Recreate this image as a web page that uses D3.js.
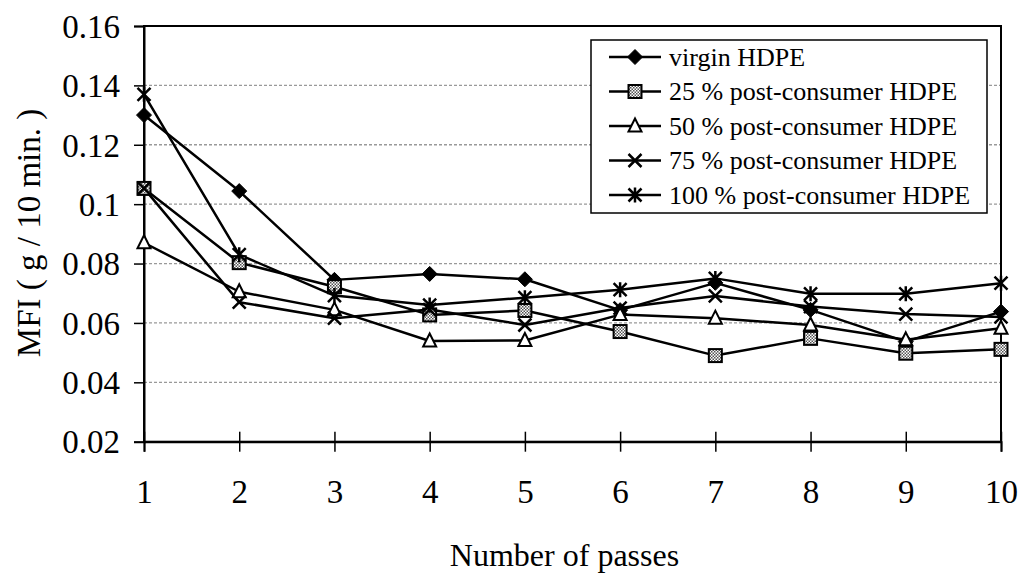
<!DOCTYPE html>
<html><head><meta charset="utf-8">
<script src="https://cdn.jsdelivr.net/npm/d3@7"></script>
<style>
body{margin:0;background:#fff}
svg{display:block}
text{font-family:"Liberation Serif","Times New Roman",serif;fill:#000}
</style>
</head><body>
<svg id="c" width="1020" height="576"></svg>
<script>
// ---- data ----
const passes = [1,2,3,4,5,6,7,8,9,10];
const virginHDPE = [0.1300,0.1044,0.0745,0.0765,0.0747,0.0643,0.0735,0.0644,0.0537,0.0638];
const pc25 = [0.1053,0.0803,0.0722,0.0627,0.0642,0.0571,0.0490,0.0548,0.0498,0.0511];
const pc50 = [0.0870,0.0705,0.0644,0.0539,0.0541,0.0628,0.0616,0.0593,0.0543,0.0582];
const pc75 = [0.1053,0.0670,0.0616,0.0645,0.0593,0.0650,0.0691,0.0655,0.0630,0.0620];
const pc100 = [0.1370,0.0830,0.0692,0.0660,0.0685,0.0712,0.0750,0.0698,0.0698,0.0734];
const seriesNames = ["virgin HDPE","25 % post-consumer HDPE","50 % post-consumer HDPE","75 % post-consumer HDPE","100 % post-consumer HDPE"];
const markerTypes = ["diamond","square","triangle","x","asterisk"];
const yTickValues = [0.02,0.04,0.06,0.08,0.10,0.12,0.14,0.16];
const yTickLabels = ["0.02","0.04","0.06","0.08","0.1","0.12","0.14","0.16"];
const xTickLabels = ["1","2","3","4","5","6","7","8","9","10"];
const xTitle = "Number of passes";
const yTitle = "MFI ( g / 10 min. )";

const seriesValues = [virginHDPE, pc25, pc50, pc75, pc100];

// ---- layout ----
const L = 144, R = 1001, T = 26, B = 441.7;
const svg = d3.select("#c");

const defs = svg.append("defs");
const pat = defs.append("pattern").attr("id","dots").attr("patternUnits","userSpaceOnUse")
  .attr("width",3).attr("height",3);
pat.append("rect").attr("width",3).attr("height",3).attr("fill","#fff");
pat.append("rect").attr("width",1.5).attr("height",1.5).attr("fill","#555");
pat.append("rect").attr("x",1.5).attr("y",1.5).attr("width",1.5).attr("height",1.5).attr("fill","#555");

const x = d3.scaleLinear().domain([1,10]).range([L,R]);
const y = d3.scaleLinear().domain([0.02,0.16]).range([B,T]);

// gridlines
svg.append("g").selectAll("line").data(yTickValues.filter(v=>v>0.021 && v<0.159)).join("line")
  .attr("x1",L).attr("x2",R).attr("y1",d=>y(d)).attr("y2",d=>y(d))
  .attr("stroke","#999").attr("stroke-width",1.3).attr("stroke-dasharray","3,2");

// plot border
svg.append("rect").attr("x",L).attr("y",T).attr("width",R-L).attr("height",B-T)
  .attr("fill","none").attr("stroke","#000").attr("stroke-width",2);

// y axis
const yAxis = d3.axisLeft(y).tickValues(yTickValues)
  .tickFormat((d,i)=>yTickLabels[i]).tickSize(10).tickPadding(14);
const gy = svg.append("g").attr("transform",`translate(${L},0)`).call(yAxis);
gy.select(".domain").attr("stroke","#000").attr("stroke-width",2);
gy.selectAll(".tick line").attr("stroke","#000").attr("stroke-width",1.5);
gy.selectAll(".tick text").style("font-size","33px").attr("dy","0.34em")
  .style("font-family",'"Liberation Serif",serif');

// x axis
const xAxis = d3.axisBottom(x).tickValues(passes)
  .tickFormat((d,i)=>xTickLabels[i]).tickSize(10).tickPadding(40);
const gx = svg.append("g").attr("transform",`translate(0,${B})`).call(xAxis);
gx.select(".domain").attr("stroke","#000").attr("stroke-width",2);
gx.selectAll(".tick line").attr("y1",-10).attr("stroke","#000").attr("stroke-width",1.5);
gx.selectAll(".tick text").style("font-size","33px").attr("dy","0.35em").attr("y",50)
  .style("font-family",'"Liberation Serif",serif');

// titles
svg.append("text").attr("x",(L+R)/2-8).attr("y",566).attr("text-anchor","middle")
  .style("font-size","32px").text(xTitle);
svg.append("text").attr("transform","translate(40,233) rotate(-90)").attr("text-anchor","middle")
  .style("font-size","33px").text(yTitle);

// markers
function drawMarker(g, type, cx, cy){
  const s = 6.5;
  if(type==="diamond"){
    g.append("path").attr("d",`M${cx},${cy-s-1}L${cx+s+1},${cy}L${cx},${cy+s+1}L${cx-s-1},${cy}Z`)
      .attr("fill","#000").attr("stroke","#000").attr("stroke-width",1);
  } else if(type==="square"){
    g.append("rect").attr("x",cx-s).attr("y",cy-s).attr("width",2*s).attr("height",2*s)
      .attr("fill","url(#dots)").attr("stroke","#000").attr("stroke-width",2);
  } else if(type==="triangle"){
    g.append("path").attr("d",`M${cx},${cy-s-1}L${cx+s},${cy+s-1}L${cx-s},${cy+s-1}Z`)
      .attr("fill","#fff").attr("stroke","#000").attr("stroke-width",2);
  } else if(type==="x"){
    g.append("path").attr("d",`M${cx-s},${cy-s}L${cx+s},${cy+s}M${cx-s},${cy+s}L${cx+s},${cy-s}`)
      .attr("stroke","#000").attr("stroke-width",2.5).attr("fill","none");
  } else if(type==="asterisk"){
    g.append("path").attr("d",`M${cx-s},${cy-s}L${cx+s},${cy+s}M${cx-s},${cy+s}L${cx+s},${cy-s}M${cx},${cy-s-1}L${cx},${cy+s+1}`)
      .attr("stroke","#000").attr("stroke-width",2.5).attr("fill","none");
  }
}

const line = d3.line().x((d,i)=>x(passes[i])).y(d=>y(d));
const gl = svg.append("g");
seriesValues.forEach((vals)=>{
  gl.append("path").attr("d",line(vals)).attr("fill","none")
    .attr("stroke","#000").attr("stroke-width",2.5).attr("stroke-linejoin","round");
});
const gm = svg.append("g");
seriesValues.forEach((vals,si)=>{
  vals.forEach((v,i)=>drawMarker(gm, markerTypes[si], x(passes[i]), y(v)));
});

// legend
const lg = svg.append("g");
lg.append("rect").attr("x",591).attr("y",40).attr("width",396).attr("height",173)
  .attr("fill","#fff").attr("stroke","#000").attr("stroke-width",1.5);
seriesNames.forEach((name,i)=>{
  const cy = 57 + i*34.5;
  lg.append("line").attr("x1",609).attr("x2",661).attr("y1",cy).attr("y2",cy)
    .attr("stroke","#000").attr("stroke-width",2.5);
  drawMarker(lg, markerTypes[i], 635, cy);
  lg.append("text").attr("x",669).attr("y",cy).attr("dy","0.33em")
    .style("font-size","26px").text(name);
});
</script>
</body></html>
